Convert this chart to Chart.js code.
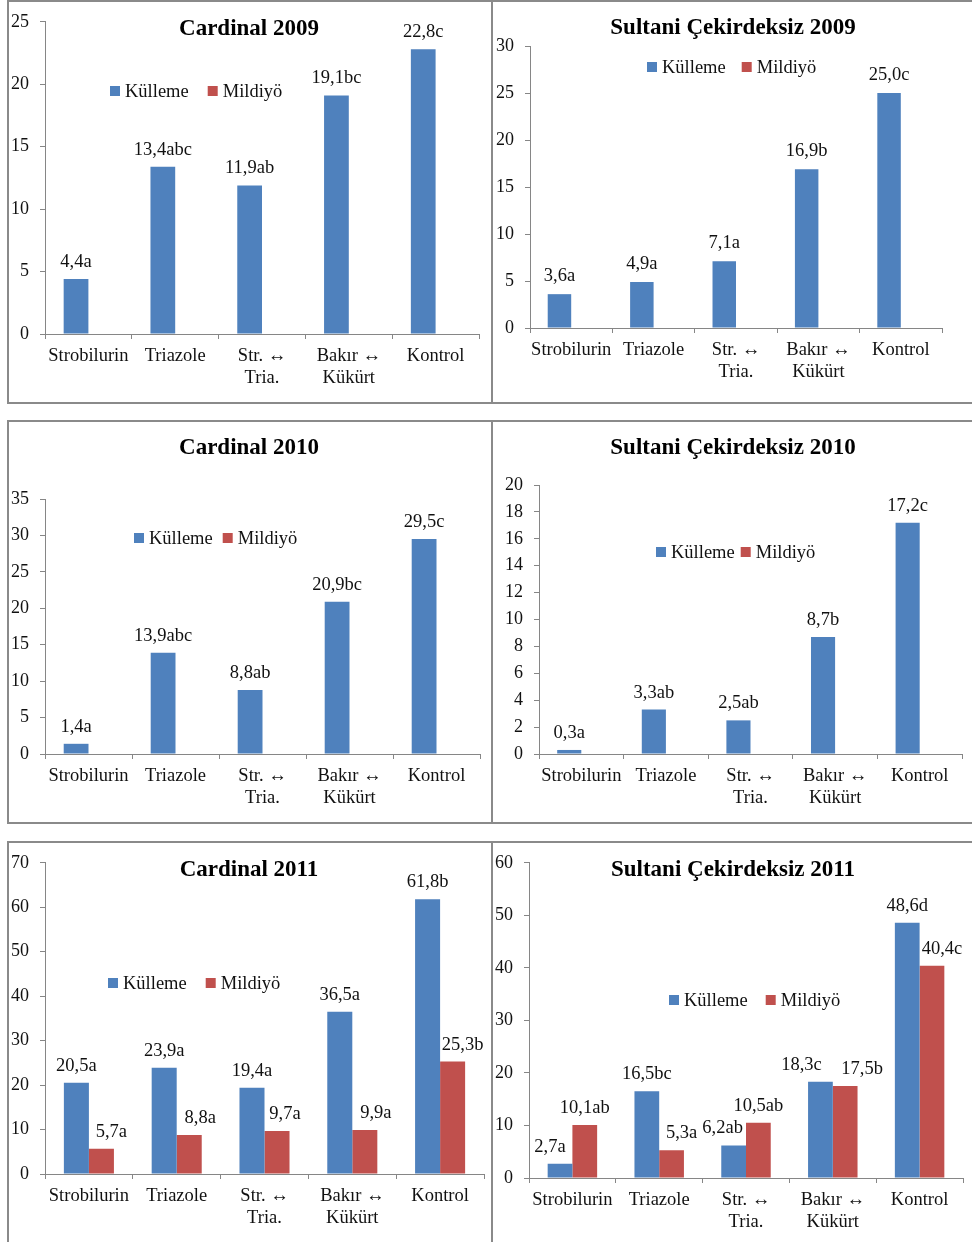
<!DOCTYPE html>
<html>
<head>
<meta charset="utf-8">
<script src="https://cdn.jsdelivr.net/npm/chart.js@4.4.1/dist/chart.umd.min.js"></script>
<style>
  body { margin: 0; width: 972px; height: 1242px; overflow: hidden; background: #fff; position: relative; }
  .box { position: absolute; box-sizing: border-box; border: 2px solid #8a8a8a; }
  canvas { position: absolute; }
</style>
</head>
<body>
<script>
var categories = ["Strobilurin", "Triazole", ["Str. \u2194", "Tria."], ["Bak\u0131r \u2194", "K\u00fck\u00fcrt"], "Kontrol"];
var seriesNames = ["K\u00fclleme", "Mildiy\u00f6"];

// Cardinal 2009
var card2009Kul = [4.4, 13.4, 11.9, 19.1, 22.8];
var card2009KulLetters = ["a", "abc", "ab", "bc", "c"];
var card2009Mil = [0, 0, 0, 0, 0];
var card2009Ticks = [0, 5, 10, 15, 20, 25];

// Sultani Çekirdeksiz 2009
var sult2009Kul = [3.6, 4.9, 7.1, 16.9, 25.0];
var sult2009KulLetters = ["a", "a", "a", "b", "c"];
var sult2009Mil = [0, 0, 0, 0, 0];
var sult2009Ticks = [0, 5, 10, 15, 20, 25, 30];

// Cardinal 2010
var card2010Kul = [1.4, 13.9, 8.8, 20.9, 29.5];
var card2010KulLetters = ["a", "abc", "ab", "bc", "c"];
var card2010Mil = [0, 0, 0, 0, 0];
var card2010Ticks = [0, 5, 10, 15, 20, 25, 30, 35];

// Sultani Çekirdeksiz 2010
var sult2010Kul = [0.3, 3.3, 2.5, 8.7, 17.2];
var sult2010KulLetters = ["a", "ab", "ab", "b", "c"];
var sult2010Mil = [0, 0, 0, 0, 0];
var sult2010Ticks = [0, 2, 4, 6, 8, 10, 12, 14, 16, 18, 20];

// Cardinal 2011
var card2011Kul = [20.5, 23.9, 19.4, 36.5, 61.8];
var card2011KulLetters = ["a", "a", "a", "a", "b"];
var card2011Mil = [5.7, 8.8, 9.7, 9.9, 25.3];
var card2011MilLetters = ["a", "a", "a", "a", "b"];
var card2011Ticks = [0, 10, 20, 30, 40, 50, 60, 70];

// Sultani Çekirdeksiz 2011
var sult2011Kul = [2.7, 16.5, 6.2, 18.3, 48.6];
var sult2011KulLetters = ["a", "bc", "ab", "c", "d"];
var sult2011Mil = [10.1, 5.3, 10.5, 17.5, 40.4];
var sult2011MilLetters = ["ab", "a", "ab", "b", "c"];
var sult2011Ticks = [0, 10, 20, 30, 40, 50, 60];

var BLUE = "#4F81BD", RED = "#C0504D", AXIS = "#868686", TXT = "#111";
var SERIF = "'Liberation Serif', 'Times New Roman', serif";
var none = [0, 0, 0, 0, 0];

var panels = [
  { title: "Cardinal 2009", kul: card2009Kul, mil: card2009Mil, kulL: card2009KulLetters, milL: null, ticks: card2009Ticks,
    box: [7, 0, 486, 404], plot: [45, 21, 479, 334], titleAt: [249, 29], legend: [110, 91, 19], gap: 12, dxK: none, dxM: none },
  { title: "Sultani \u00c7ekirdeksiz 2009", kul: sult2009Kul, mil: sult2009Mil, kulL: sult2009KulLetters, milL: null, ticks: sult2009Ticks,
    box: [491, 0, 490, 404], plot: [530, 46, 942, 328], titleAt: [733, 28], legend: [647, 67, 16], gap: 13, dxK: none, dxM: none },
  { title: "Cardinal 2010", kul: card2010Kul, mil: card2010Mil, kulL: card2010KulLetters, milL: null, ticks: card2010Ticks,
    box: [7, 420, 486, 404], plot: [45, 499, 480, 754], titleAt: [249, 448], legend: [134, 538, 10], gap: 12, dxK: none, dxM: none },
  { title: "Sultani \u00c7ekirdeksiz 2010", kul: sult2010Kul, mil: sult2010Mil, kulL: sult2010KulLetters, milL: null, ticks: sult2010Ticks,
    box: [491, 420, 490, 404], plot: [539, 485, 962, 754], titleAt: [733, 448], legend: [656, 552, 6], gap: 12, dxK: none, dxM: none },
  { title: "Cardinal 2011", kul: card2011Kul, mil: card2011Mil, kulL: card2011KulLetters, milL: card2011MilLetters, ticks: card2011Ticks,
    box: [7, 841, 486, 410], plot: [45, 862, 484, 1174], titleAt: [249, 870], legend: [108, 983, 19], gap: 12, dxK: none, dxM: [10, 11, 8, 11, 10] },
  { title: "Sultani \u00c7ekirdeksiz 2011", kul: sult2011Kul, mil: sult2011Mil, kulL: sult2011KulLetters, milL: sult2011MilLetters, ticks: sult2011Ticks,
    box: [491, 841, 490, 410], plot: [529, 862, 963, 1178], titleAt: [733, 870], legend: [669, 1000, 18], gap: 12, dxK: [-10, 0, -11, -19, 0], dxM: [0, 10, 0, 17, 10] }
];

function fmt(v, letter) {
  return v.toFixed(1).replace(".", ",") + letter;
}

var panelPlugin = {
  id: "panelDecor",
  afterDatasetsDraw: function (chart) {
    var p = chart.options.panel, ctx = chart.ctx;
    ctx.save();
    ctx.font = "18.5px " + SERIF;
    ctx.fillStyle = TXT;
    ctx.textAlign = "center";
    ctx.textBaseline = "alphabetic";
    var letterSets = [p.kulL, p.milL], dxs = [p.dxK, p.dxM];
    chart.data.datasets.forEach(function (ds, i) {
      if (!letterSets[i]) return;
      chart.getDatasetMeta(i).data.forEach(function (bar, j) {
        var v = ds.data[j];
        if (!v) return;
        ctx.fillText(fmt(v, letterSets[i][j]), bar.x + dxs[i][j], bar.y - p.gap);
      });
    });
    ctx.restore();
  },
  afterDraw: function (chart) {
    var p = chart.options.panel, ctx = chart.ctx;
    var ox = p.box[0], oy = p.box[1];
    ctx.save();
    // title
    ctx.font = "bold 23px " + SERIF;
    ctx.fillStyle = "#000";
    ctx.textAlign = "center";
    ctx.textBaseline = "middle";
    ctx.fillText(p.title, p.titleAt[0] - ox, p.titleAt[1] - oy);
    // legend
    ctx.font = "18.5px " + SERIF;
    ctx.textAlign = "left";
    var x = p.legend[0] - ox, y = p.legend[1] - oy;
    chart.data.datasets.forEach(function (ds) {
      ctx.fillStyle = ds.backgroundColor;
      ctx.fillRect(x, y - 5, 10, 10);
      ctx.fillStyle = TXT;
      ctx.fillText(ds.label, x + 15, y + 1);
      x += 15 + ctx.measureText(ds.label).width + p.legend[2];
    });
    ctx.restore();
  }
};

panels.forEach(function (p) {
  var b = p.box;
  var frame = document.createElement("div");
  frame.className = "box";
  frame.style.left = b[0] + "px";
  frame.style.top = b[1] + "px";
  frame.style.width = b[2] + "px";
  frame.style.height = b[3] + "px";
  document.body.appendChild(frame);

  var cv = document.createElement("canvas");
  cv.width = b[2];
  cv.height = b[3];
  cv.style.left = b[0] + "px";
  cv.style.top = b[1] + "px";
  document.body.appendChild(cv);

  var yW = p.plot[0] - b[0];
  var xH = b[1] + b[3] - p.plot[3];

  new Chart(cv, {
    type: "bar",
    data: {
      labels: categories,
      datasets: [
        { label: seriesNames[0], data: p.kul, backgroundColor: BLUE },
        { label: seriesNames[1], data: p.mil, backgroundColor: RED }
      ]
    },
    options: {
      panel: p,
      responsive: false,
      animation: false,
      devicePixelRatio: 1,
      layout: { padding: { left: 0, top: p.plot[1] - b[1], right: b[0] + b[2] - p.plot[2], bottom: 0 } },
      datasets: { bar: { categoryPercentage: 0.57, barPercentage: 1 } },
      plugins: { legend: { display: false }, title: { display: false }, tooltip: { enabled: false } },
      scales: {
        x: {
          grid: { drawOnChartArea: false, color: AXIS, tickLength: 5, offset: true },
          border: { color: AXIS },
          ticks: { color: TXT, font: { family: SERIF, size: 18.5, lineHeight: 1.2 }, padding: 6, maxRotation: 0, autoSkip: false },
          afterFit: function (s) { s.height = xH; }
        },
        y: {
          min: p.ticks[0],
          max: p.ticks[p.ticks.length - 1],
          grid: { drawOnChartArea: false, color: AXIS, tickLength: 5 },
          border: { color: AXIS },
          ticks: { stepSize: p.ticks[1] - p.ticks[0], color: TXT, font: { family: SERIF, size: 18 }, padding: 11 },
          afterFit: function (s) { s.width = yW; }
        }
      }
    },
    plugins: [panelPlugin]
  });
});
</script>
</body>
</html>
